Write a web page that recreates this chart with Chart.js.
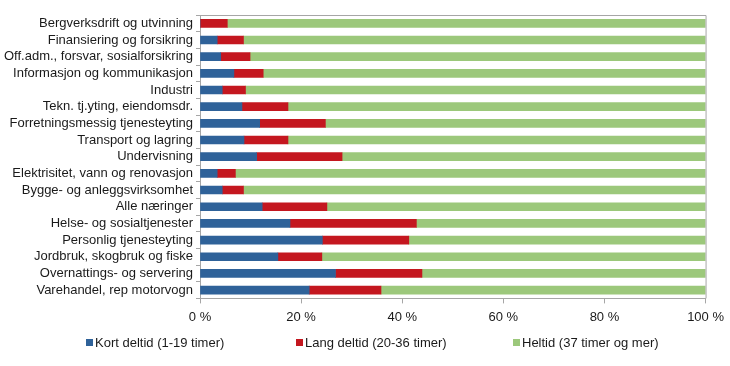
<!DOCTYPE html>
<html>
<head>
<meta charset="utf-8">
<script src="https://cdn.jsdelivr.net/npm/chart.js@4/dist/chart.umd.min.js"></script>
<style>
    html, body { margin: 0; padding: 0; background: #ffffff; }
    #wrap { position: relative; width: 730px; height: 366px; }
    #legend {
        position: absolute; left: 0; top: 334px; width: 730px; height: 20px;
        font-family: "Liberation Sans", Arial, sans-serif; font-size: 13px; color: #1a1a1a;
    }
    #legend .item { position: absolute; top: 0; white-space: nowrap; line-height: 18px; }
    #legend .box { display: inline-block; width: 7px; height: 7px; margin-right: 2px; vertical-align: 1px; }
</style>
</head>
<body>
<div id="wrap">
    <canvas id="chart" width="730" height="366"></canvas>
    <div id="legend"></div>
</div>
<script>
// Andel sysselsatte etter arbeidstid, per næring (prosent)
const categories = [
    'Bergverksdrift og utvinning',
    'Finansiering og forsikring',
    'Off.adm., forsvar, sosialforsikring',
    'Informasjon og kommunikasjon',
    'Industri',
    'Tekn. tj.yting, eiendomsdr.',
    'Forretningsmessig tjenesteyting',
    'Transport og lagring',
    'Undervisning',
    'Elektrisitet, vann og renovasjon',
    'Bygge- og anleggsvirksomhet',
    'Alle næringer',
    'Helse- og sosialtjenester',
    'Personlig tjenesteyting',
    'Jordbruk, skogbruk og fiske',
    'Overnattings- og servering',
    'Varehandel, rep motorvogn'
];

const kortDeltid = [0, 3.4, 4.1, 6.7, 4.4, 8.3, 11.8, 8.7, 11.2, 3.4, 4.4, 12.3, 17.8, 24.2, 15.4, 26.8, 21.6];
const langDeltid = [5.4, 5.2, 5.8, 5.8, 4.6, 9.1, 13.0, 8.7, 16.9, 3.6, 4.2, 12.8, 25.0, 17.1, 8.7, 17.1, 14.2];
const heltid = [94.6, 91.4, 90.1, 87.5, 91.0, 82.6, 75.2, 82.6, 71.9, 93.0, 91.4, 74.9, 57.2, 58.7, 75.9, 56.1, 64.2];

const seriesNames = ['Kort deltid (1-19 timer)', 'Lang deltid (20-36 timer)', 'Heltid (37 timer og mer)'];
const seriesColors = ['#2f6299', '#c4171f', '#9cc87b'];
const xTicks = [0, 20, 40, 60, 80, 100];

const axisGray = '#a6a6a6';
const textColor = '#1a1a1a';

// frame around the plot area (top and right edges)
const frame = {
    id: 'frame',
    afterDatasetsDraw(chart) {
        const a = chart.chartArea;
        const ctx = chart.ctx;
        ctx.save();
        ctx.strokeStyle = axisGray;
        ctx.lineWidth = 1;
        ctx.beginPath();
        ctx.moveTo(a.left, a.top + 0.5);
        ctx.lineTo(a.right + 0.5, a.top + 0.5);
        ctx.lineTo(a.right + 0.5, a.bottom);
        ctx.stroke();
        ctx.restore();
    }
};

Chart.defaults.font.family = '"Liberation Sans", Arial, sans-serif';
Chart.defaults.color = textColor;

const chart = new Chart(document.getElementById('chart'), {
    type: 'bar',
    data: {
        labels: categories,
        datasets: [kortDeltid, langDeltid, heltid].map((d, i) => ({
            label: seriesNames[i],
            data: d,
            backgroundColor: seriesColors[i],
            barThickness: 8
        }))
    },
    options: {
        indexAxis: 'y',
        responsive: false,
        animation: false,
        layout: {
            padding: { top: 15, right: 22, left: 0, bottom: 35 }
        },
        plugins: {
            legend: { display: false },
            tooltip: { enabled: false }
        },
        scales: {
            x: {
                stacked: true,
                min: 0,
                max: 100,
                afterBuildTicks(scale) {
                    scale.ticks = xTicks.map(v => ({ value: v }));
                },
                grid: {
                    drawOnChartArea: false,
                    tickLength: 5,
                    color: axisGray
                },
                border: { color: axisGray },
                ticks: {
                    font: { size: 13 },
                    color: textColor,
                    padding: 6,
                    callback: v => v + ' %'
                }
            },
            y: {
                stacked: true,
                afterFit(scale) { scale.width = 200; },
                grid: {
                    drawOnChartArea: false,
                    offset: true,
                    tickLength: 4,
                    color: axisGray
                },
                border: { color: axisGray },
                ticks: {
                    font: { size: 13 },
                    color: textColor,
                    padding: 3,
                    autoSkip: false
                }
            }
        }
    },
    plugins: [frame]
});

// legend below the plot, spread out like the original
const legendX = [86, 296, 513];
const legend = document.getElementById('legend');
seriesNames.forEach((name, i) => {
    const item = document.createElement('span');
    item.className = 'item';
    item.style.left = legendX[i] + 'px';
    item.innerHTML = '<span class="box" style="background:' + seriesColors[i] + '"></span>' + name;
    legend.appendChild(item);
});
</script>
</body>
</html>
